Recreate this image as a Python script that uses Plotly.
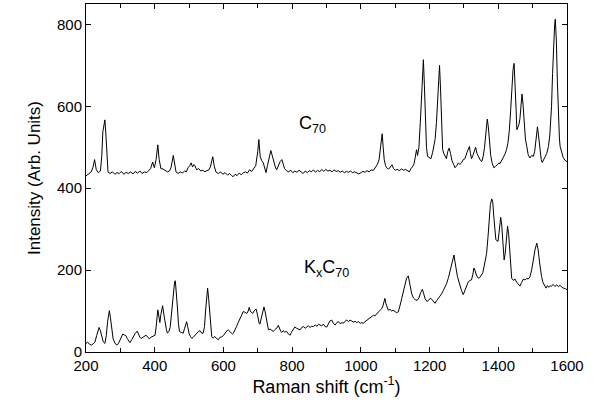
import plotly.graph_objects as go

# C70 spectrum (Raman shift cm^-1, intensity)
c70_x = [200, 208, 215, 220, 225, 230, 236, 242, 246, 249, 252, 255, 258, 261, 264, 270, 277, 284, 290, 297,
         303, 310, 317, 323, 330, 337, 343, 350, 357, 363, 370, 377, 383, 388, 394, 399, 404, 409, 413, 418,
         424, 430, 437, 443, 448, 454, 458, 462, 468, 474, 480, 487, 492, 497, 502, 506, 510, 514, 517, 522,
         528, 534, 540, 546, 552, 558, 562, 566, 569, 573, 578, 585, 592, 598, 605, 612, 618, 624, 628, 634,
         640, 646, 652, 658, 664, 670, 676, 682, 688, 694, 700, 703, 707, 711, 716, 720, 724, 728, 733, 738,
         742, 747, 751, 755, 760, 765, 770, 774, 778, 783, 790, 796, 802, 808, 814, 820, 826, 832, 838, 844,
         850, 856, 862, 868, 874, 880, 886, 892, 898, 904, 910, 916, 922, 928, 934, 940, 946, 952, 958, 964,
         970, 976, 982, 988, 994, 1000, 1006, 1012, 1018, 1024, 1030, 1036, 1042, 1048, 1053, 1057, 1060, 1062, 1065, 1068,
         1072, 1075, 1080, 1085, 1088, 1091, 1095, 1100, 1106, 1112, 1118, 1124, 1130, 1136, 1141, 1146, 1150, 1155, 1159, 1162,
         1165, 1169, 1173, 1177, 1180, 1182, 1185, 1188, 1191, 1194, 1199, 1204, 1209, 1213, 1216, 1220, 1224, 1227, 1229, 1232,
         1235, 1238, 1241, 1245, 1249, 1253, 1257, 1261, 1265, 1270, 1274, 1279, 1284, 1288, 1293, 1298, 1303, 1309, 1313, 1316,
         1319, 1322, 1326, 1330, 1334, 1338, 1343, 1348, 1352, 1356, 1360, 1364, 1368, 1371, 1374, 1378, 1382, 1387, 1392, 1397,
         1402, 1405, 1410, 1415, 1420, 1424, 1428, 1432, 1436, 1440, 1443, 1446, 1449, 1452, 1454, 1457, 1460, 1463, 1466, 1469,
         1472, 1475, 1479, 1483, 1487, 1492, 1497, 1502, 1506, 1510, 1514, 1517, 1521, 1525, 1528, 1532, 1537, 1541, 1546, 1550,
         1553, 1555, 1558, 1561, 1564, 1566, 1569, 1572, 1575, 1578, 1580, 1585, 1589, 1594, 1600]
c70_y = [430, 436, 440, 450, 470, 445, 438, 442, 480, 538, 560, 567, 530, 470, 440, 436, 440, 434, 438, 436,
         441, 434, 439, 436, 440, 435, 441, 437, 442, 436, 440, 438, 445, 448, 464, 450, 470, 506, 470, 448,
         447, 444, 440, 442, 452, 480, 455, 440, 436, 440, 437, 442, 440, 450, 455, 462, 452, 458, 455, 445,
         448, 442, 444, 440, 443, 445, 452, 468, 477, 455, 440, 436, 440, 434, 438, 432, 436, 431, 428, 434,
         431, 437, 433, 438, 440, 437, 445, 441, 448, 455, 490, 519, 478, 468, 462, 450, 438, 455, 475, 492,
         480, 462, 452, 445, 455, 465, 470, 458, 448, 443, 440, 444, 438, 442, 439, 444, 440, 436, 442, 438,
         443, 440, 445, 439, 444, 440, 446, 441, 446, 442, 444, 440, 445, 441, 443, 439, 442, 438, 441, 439,
         442, 438, 440, 437, 435, 438, 441, 439, 443, 440, 445, 443, 450, 458, 470, 495, 518, 533, 500, 470,
         455, 450, 447, 450, 455, 457, 448, 444, 446, 443, 447, 444, 446, 442, 440, 448, 452, 460, 475, 494,
         480, 500, 560, 650, 700, 714, 650, 560, 500, 478, 476, 472, 488, 505, 519, 560, 640, 690, 700, 640,
         540, 495, 486, 480, 472, 490, 498, 485, 468, 458, 450, 455, 462, 458, 462, 470, 472, 488, 495, 502,
         485, 472, 480, 492, 500, 485, 474, 468, 465, 478, 500, 540, 569, 550, 510, 480, 462, 450, 453, 458,
         462, 460, 470, 476, 485, 494, 510, 540, 590, 650, 690, 705, 660, 590, 543, 548, 555, 570, 605, 630,
         605, 560, 520, 502, 482, 474, 480, 478, 490, 520, 550, 530, 490, 470, 463, 472, 478, 485, 502, 530,
         570, 600, 680, 760, 800, 813, 760, 660, 570, 520, 502, 485, 475, 468, 465]

# KxC70 spectrum
kc70_x = [200, 205, 210, 216, 221, 226, 231, 235, 238, 242, 246, 250, 255, 259, 263, 266, 268, 271, 275, 279,
          284, 289, 294, 298, 303, 307, 311, 316, 320, 324, 328, 333, 338, 343, 349, 353, 357, 360, 365, 370,
          375, 380, 384, 389, 393, 397, 401, 404, 407, 409, 412, 415, 418, 421, 423, 426, 430, 434, 437, 441,
          445, 450, 453, 456, 458, 460, 463, 466, 469, 472, 477, 483, 487, 490, 493, 496, 500, 504, 508, 512,
          517, 522, 527, 532, 537, 541, 545, 548, 551, 554, 557, 560, 563, 566, 570, 575, 580, 585, 590, 595,
          600, 605, 610, 614, 618, 622, 626, 629, 633, 638, 643, 648, 653, 658, 663, 668, 672, 675, 678, 682,
          685, 689, 692, 695, 698, 701, 704, 706, 710, 714, 718, 721, 725, 728, 731, 736, 741, 745, 750, 755,
          760, 764, 767, 770, 774, 778, 784, 789, 794, 798, 803, 808, 813, 818, 823, 828, 833, 838, 842, 847,
          852, 857, 862, 867, 872, 877, 881, 886, 891, 896, 901, 906, 910, 915, 920, 925, 930, 935, 940, 945,
          949, 954, 959, 964, 968, 973, 978, 983, 988, 993, 998, 1003, 1007, 1012, 1017, 1022, 1027, 1032, 1037, 1041,
          1046, 1051, 1056, 1061, 1064, 1067, 1070, 1073, 1076, 1080, 1085, 1090, 1094, 1099, 1104, 1109, 1113, 1116, 1119, 1124,
          1129, 1133, 1138, 1141, 1144, 1148, 1153, 1158, 1164, 1169, 1174, 1179, 1183, 1187, 1193, 1198, 1204, 1209, 1213, 1216,
          1221, 1225, 1230, 1235, 1240, 1245, 1250, 1255, 1260, 1265, 1268, 1271, 1274, 1277, 1281, 1284, 1288, 1293, 1298, 1303,
          1308, 1313, 1318, 1322, 1326, 1329, 1332, 1336, 1342, 1346, 1351, 1355, 1359, 1363, 1366, 1370, 1374, 1377, 1381, 1384,
          1387, 1390, 1393, 1396, 1399, 1402, 1404, 1407, 1410, 1413, 1417, 1420, 1423, 1427, 1430, 1433, 1436, 1439, 1444, 1449,
          1453, 1458, 1463, 1468, 1473, 1478, 1483, 1487, 1492, 1497, 1502, 1507, 1512, 1516, 1520, 1523, 1526, 1530, 1534, 1539,
          1543, 1548, 1552, 1555, 1560, 1565, 1570, 1575, 1580, 1585, 1590, 1595, 1600]
kc70_y = [21, 24, 19, 17, 20, 24, 40, 55, 60, 52, 35, 25, 21, 40, 75, 98, 101, 85, 55, 32,
          22, 17, 20, 28, 38, 44, 42, 40, 33, 28, 23, 30, 38, 45, 51, 42, 36, 33, 36, 40,
          41, 36, 32, 36, 38, 40, 41, 60, 90, 103, 88, 72, 92, 108, 113, 95, 70, 55, 46, 50,
          60, 100, 140, 165, 172, 174, 150, 110, 70, 50, 48, 46, 58, 70, 74, 62, 45, 38, 33, 36,
          41, 45, 50, 52, 46, 46, 62, 100, 140, 156, 130, 90, 55, 37, 34, 38, 33, 30, 36, 37,
          40, 48, 52, 54, 50, 48, 44, 46, 52, 62, 72, 81, 92, 99, 97, 94, 100, 109, 100, 96,
          94, 100, 103, 105, 95, 80, 70, 68, 85, 100, 110, 100, 80, 62, 54, 56, 52, 50, 55, 58,
          65, 55, 50, 48, 52, 49, 50, 44, 41, 48, 55, 61, 58, 56, 54, 60, 62, 58, 61, 64,
          60, 63, 62, 66, 63, 68, 66, 64, 68, 62, 61, 70, 76, 78, 70, 66, 72, 74, 69, 72,
          70, 75, 78, 74, 78, 76, 73, 75, 72, 74, 70, 72, 70, 74, 77, 80, 82, 86, 90, 88,
          94, 98, 102, 106, 112, 124, 131, 118, 108, 102, 104, 100, 102, 98, 96, 98, 108, 120, 131, 150,
          168, 180, 186, 175, 158, 142, 132, 128, 126, 132, 145, 153, 142, 130, 123, 128, 131, 125, 120, 119,
          126, 130, 135, 142, 150, 158, 168, 182, 200, 220, 232, 237, 220, 200, 185, 176, 162, 150, 140, 150,
          163, 172, 175, 176, 190, 205, 200, 188, 180, 182, 188, 194, 210, 228, 241, 280, 330, 360, 374, 365,
          330, 295, 274, 272, 270, 290, 315, 329, 310, 265, 225, 240, 280, 307, 290, 250, 205, 180, 175, 178,
          171, 166, 161, 170, 178, 176, 180, 178, 183, 200, 229, 250, 266, 250, 220, 200, 184, 170, 162, 156,
          162, 158, 162, 161, 165, 160, 164, 160, 163, 158, 156, 155, 152]

x_ticks = [200, 400, 600, 800, 1000, 1200, 1400, 1600]
y_ticks = [0, 200, 400, 600, 800]

FONT = "Liberation Sans, Arial, Helvetica, sans-serif"

fig = go.Figure()
fig.add_trace(go.Scatter(x=c70_x, y=c70_y, mode="lines", name="C70",
                         line=dict(color="black", width=1), showlegend=False))
fig.add_trace(go.Scatter(x=kc70_x, y=kc70_y, mode="lines", name="KxC70",
                         line=dict(color="black", width=1), showlegend=False))

fig.add_annotation(x=860, y=555, text="C<sub>70</sub>", showarrow=False,
                   font=dict(family=FONT, size=18, color="black"))
fig.add_annotation(x=900, y=205, text="K<sub>x</sub>C<sub>70</sub>", showarrow=False,
                   font=dict(family=FONT, size=18, color="black"))

axis_common = dict(showline=True, linecolor="black", linewidth=1, mirror="ticks",
                   ticks="inside", ticklen=5, tickcolor="black", showgrid=False, zeroline=False,
                   automargin=False,
                   tickfont=dict(family=FONT, size=15, color="black"))

fig.update_xaxes(range=[200, 1600], tickvals=x_ticks, ticktext=[str(v) for v in x_ticks],
                 minor=dict(dtick=100, ticks="inside", ticklen=4, tickcolor="black"),
                 title=dict(text="Raman shift (cm<sup>-1</sup>)", standoff=0,
                            font=dict(family=FONT, size=18, color="black")),
                 **axis_common)
fig.update_yaxes(range=[0, 850], tickvals=y_ticks, ticktext=[str(v) for v in y_ticks],
                 title=dict(text="Intensity (Arb. Units)", standoff=12,
                            font=dict(family=FONT, size=17, color="black")),
                 **axis_common)

fig.update_layout(width=598, height=400, margin=dict(l=86, r=31, t=4, b=48),
                  plot_bgcolor="white", paper_bgcolor="white",
                  font=dict(family=FONT, color="black"))

fig.write_html("out.html", config={"displayModeBar": False},
               post_script="document.body.style.margin='0';document.body.style.overflow='hidden';")
